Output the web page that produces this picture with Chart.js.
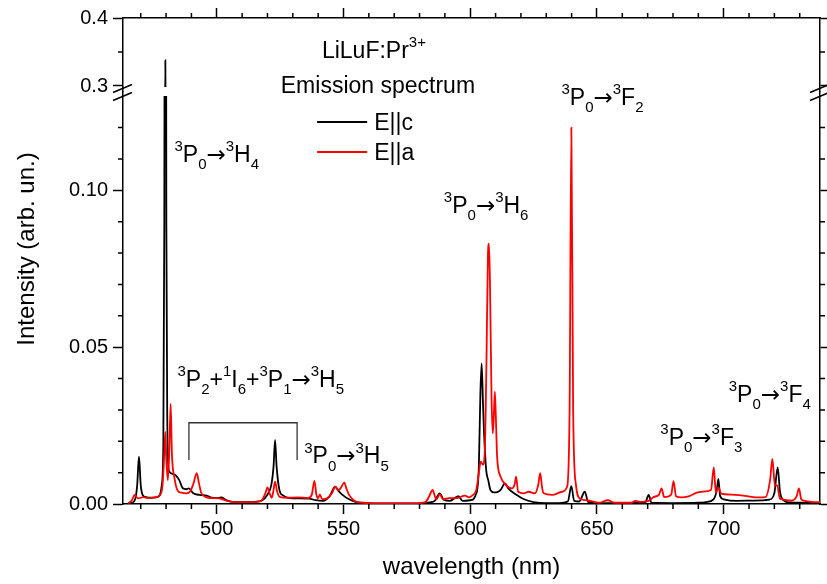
<!DOCTYPE html>
<html>
<head>
<meta charset="utf-8">
<title>LiLuF:Pr3+ emission spectrum</title>
<script src="https://cdn.jsdelivr.net/npm/chart.js@4.4.1/dist/chart.umd.min.js"></script>
<style>
  body { margin: 0; background: #fff; }
  #wrap { width: 827px; height: 584px; }
</style>
</head>
<body>
<div id="wrap"><canvas id="spec" width="827" height="584"></canvas></div>
<script>
// ---- data ----

// E||c, black
var cWl = [465, 466.5, 467.8, 468.6, 469.3, 470.0, 470.8, 472, 474, 476, 477.5, 478.3, 478.9, 479.3, 479.7, 480.1, 480.5,
  481.1, 482.7, 484, 485.2, 486.6, 488, 489, 490.6, 493.2, 496, 498, 500.5, 502, 503.5, 506, 510, 515, 518, 520,
  521.5, 522.4, 523, 523.6, 524.7, 526, 528.6, 532, 536.5, 539, 542, 544.5, 546.7, 548, 549.6, 552.2, 555, 560,
  570, 580, 584, 586, 588, 589.5, 592, 595.3, 597, 600, 602.4, 603.4, 604.0, 604.5, 605.0, 605.4, 606.3, 607.1,
  608, 609.3, 610.7, 612, 613.7, 615, 618.5, 621, 625, 630, 635, 638.5, 639.9, 641, 643, 645.2, 646.5, 650, 660,
  669, 670.4, 671.5, 680, 690, 693, 696, 697.3, 697.9, 698.6, 700, 705, 712, 718, 720, 721.3, 722.2, 723.1, 726,
  732, 738];
var cInt = [0.0002, 0.0004, 0.0015, 0.006, 0.0151, 0.006, 0.0028, 0.0022, 0.002, 0.0021, 0.0028, 0.006, 0.018, 0.09, 0.338, 0.09, 0.025,
  0.0106, 0.0096, 0.009, 0.0076, 0.005, 0.0047, 0.005, 0.0035, 0.0029, 0.0027, 0.002, 0.0019, 0.0021, 0.0013, 0.0007, 0.0006, 0.0007, 0.0012, 0.003,
  0.006, 0.012, 0.0204, 0.012, 0.0045, 0.0028, 0.0019, 0.0018, 0.0017, 0.0012, 0.001, 0.0025, 0.0055, 0.0042, 0.0029, 0.0015, 0.0006, 0.0003,
  0.0002, 0.0002, 0.0005, 0.001, 0.0034, 0.0014, 0.001, 0.0025, 0.001, 0.0012, 0.0034, 0.012, 0.035, 0.0448, 0.033, 0.0236, 0.0108, 0.0076,
  0.0044, 0.0037, 0.0038, 0.0045, 0.0066, 0.005, 0.0028, 0.0016, 0.0006, 0.0003, 0.0003, 0.0008, 0.0057, 0.001, 0.0008, 0.0039, 0.0007, 0.0003, 0.0003,
  0.0004, 0.0029, 0.0004, 0.0003, 0.0004, 0.0006, 0.0015, 0.0045, 0.008, 0.0025, 0.0015, 0.001, 0.0011, 0.0014, 0.0035, 0.0117, 0.004, 0.0016, 0.0005,
  0.0004, 0.0003];

// E||a, red
var aWl = [465, 466.5, 467.6, 468.9, 471, 473, 475.5, 477.5, 478.6, 479.3, 479.7, 480.1, 480.7, 481.3, 481.8, 482.3, 483.3,
  484.6, 486, 488, 489.5, 490.8, 492.1, 493.0, 493.9, 495.8, 498, 501, 504, 508, 514, 517.5, 519.2, 520, 520.8,
  521.7, 522.3, 523, 523.8, 525, 528, 532, 536, 537.5, 538.5, 539.3, 539.9, 540.7, 541.6, 543.5, 545.5, 546.7,
  548, 549, 550.3, 551.2, 552.2, 554, 555.4, 560, 570, 578, 582.4, 584, 585.1, 586.6, 588, 589.2, 591.6, 594.9,
  597.9, 599.5, 601, 602.4, 603.5, 604.1, 605.0, 605.7, 606.4, 607.0, 607.4, 607.8, 608.4, 608.9, 609.3, 609.7,
  610.1, 610.6, 612, 614, 616.5, 617.5, 618.1, 618.9, 621.1, 623.1, 625.5, 626.8, 627.6, 628.4, 629, 632.3,
  636.2, 638.2, 639.2, 639.9, 640.6, 641.7, 643.5, 646, 650.7, 654.3, 657, 663.7, 665.1, 667, 670.4, 672.3,
  674.5, 675.5, 676.5, 679.3, 680.2, 681.2, 683.3, 686.1, 689.4, 692.7, 695, 696.1, 696.9, 697.9, 699, 703.1,
  708.4, 713.7, 716.5, 718.3, 719.2, 720.2, 721.1, 722.2, 726.8, 728.8, 729.7, 730.6, 731.5, 734.5, 738];
var aInt = [0.0002, 0.0012, 0.0029, 0.0018, 0.0022, 0.0019, 0.0021, 0.0028, 0.006, 0.016, 0.023, 0.014, 0.0076, 0.018, 0.032, 0.016, 0.0083,
  0.0042, 0.0036, 0.0034, 0.004, 0.0065, 0.0098, 0.0065, 0.0035, 0.0022, 0.0019, 0.0018, 0.001, 0.0006, 0.0006, 0.001, 0.0035, 0.0053, 0.0035,
  0.002, 0.004, 0.0071, 0.004, 0.0022, 0.002, 0.0021, 0.0019, 0.003, 0.0074, 0.003, 0.0018, 0.003, 0.0015, 0.0018, 0.0035, 0.0055,
  0.0044, 0.0052, 0.0068, 0.0048, 0.0029, 0.0012, 0.0006, 0.0003, 0.0002, 0.0002, 0.0007, 0.0028, 0.0045, 0.0015, 0.0031, 0.0015, 0.0019, 0.0019,
  0.0027, 0.0021, 0.0028, 0.0045, 0.0105, 0.0135, 0.0125, 0.016, 0.045, 0.08, 0.083, 0.07, 0.0342, 0.0225, 0.028, 0.0358,
  0.028, 0.0151, 0.0087, 0.0061, 0.005, 0.0062, 0.0087, 0.0039, 0.0034, 0.0039, 0.0034, 0.006, 0.0098, 0.005, 0.0034, 0.0029,
  0.0039, 0.0055, 0.03, 0.12, 0.03, 0.0062, 0.0016, 0.0012, 0.0004, 0.0012, 0.0004, 0.0004, 0.001, 0.0007, 0.001, 0.0022,
  0.003, 0.005, 0.0022, 0.003, 0.0073, 0.0025, 0.0021, 0.0024, 0.0036, 0.004, 0.0045, 0.0117, 0.0036, 0.0053, 0.0033, 0.003,
  0.0026, 0.0021, 0.0022, 0.0076, 0.0144, 0.006, 0.0059, 0.0017, 0.0011, 0.0025, 0.005, 0.0015, 0.0011, 0.0007, 0.0006];

var seriesNames = ['E||c', 'E||a'];
var seriesColors = ['#000000', '#ff0000'];

// axis ranges (lower part / upper part of the broken y axis)
var X_MIN = 463, X_MAX = 738;
var LOW_MIN = 0, LOW_MAX = 0.1315;
var HIGH_MIN = 0.2919, HIGH_MAX = 0.4;

// transition labels: [text, wavelength, intensity of baseline]  (^ = superscript, _ = subscript)
var labels = [
  ['^3P_0\u2192^3H_4', 483.3, 0.109],
  ['^3P_2+^1I_6+^3P_1\u2192^3H_5', 484.5, 0.0373],
  ['^3P_0\u2192^3H_5', 534.5, 0.013],
  ['^3P_0\u2192^3H_6', 589.6, 0.0928],
  ['^3P_0\u2192^3F_2', 636, 0.1272],
  ['^3P_0\u2192^3F_3', 675, 0.0188],
  ['^3P_0\u2192^3F_4', 702, 0.0326]
];
// bracket under the 3P2+1I6+3P1 label: wavelengths and heights
var bracketWl = [489, 531.7];
var bracketInt = [0.014, 0.0259];

// ---- helpers ----
var FONT = "'Liberation Sans', Arial, sans-serif";
var ARROW_FONT = "'DejaVu Sans', sans-serif";
var TXT = 23;
Chart.defaults.font.family = FONT;
Chart.defaults.color = '#000';

function pts(wl, val) {
  return wl.map(function(w, i) { return {x: w, y: val[i]}; });
}
function isMultiple(v, step) {
  var r = v / step;
  return Math.abs(r - Math.round(r)) < 1e-6;
}
function majorColor(step) {
  return function(ctx) { return ctx.tick && isMultiple(ctx.tick.value, step) ? '#000' : 'rgba(0,0,0,0)'; };
}

var MINOR = 5, MAJOR = 10, GAP = 9;

// draws "^3P_0" style strings, returns width
function richText(ctx, spec, x, y, size, measureOnly) {
  var small = Math.round(size * 0.65);
  var parts = [], i = 0;
  while (i < spec.length) {
    var ch = spec[i];
    if (ch === '^' || ch === '_') {
      var t = spec[i + 1];
      if (spec[i + 2] === '+' && ch === '^' && spec[i + 3] === undefined) { t += '+'; i++; }
      parts.push({t: t, k: ch});
      i += 2;
    } else {
      parts.push({t: ch, k: ch === '\u2192' ? 'arrow' : ''});
      i++;
    }
  }
  var cx = x;
  parts.forEach(function(p) {
    var fs = (p.k === '^' || p.k === '_') ? small : size;
    ctx.font = fs + 'px ' + (p.k === 'arrow' ? ARROW_FONT : FONT);
    var dy = p.k === '^' ? -size * 0.46 : (p.k === '_' ? size * 0.32 : 0);
    if (!measureOnly) ctx.fillText(p.t, cx, y + dy);
    cx += ctx.measureText(p.t).width;
  });
  return cx - x;
}

var decor = {
  id: 'decor',
  beforeDatasetDraw: function(chart, args) {
    var xs = args.meta.xScale, ys = args.meta.yScale, ctx = chart.ctx;
    var top = ys.top, bottom = ys.bottom;
    if (ys.id === 'yLow') { top += GAP / 2; bottom += 2; } else { bottom -= GAP / 2; }
    ctx.save();
    ctx.beginPath();
    ctx.rect(xs.left, top, xs.right - xs.left, bottom - top);
    ctx.clip();
  },
  afterDatasetDraw: function(chart) {
    chart.ctx.restore();
  },
  afterDraw: function(chart) {
    var ctx = chart.ctx, s = chart.scales, area = chart.chartArea;
    ctx.save();
    ctx.strokeStyle = '#000';
    ctx.lineWidth = 1.5;

    // minor ticks
    ctx.beginPath();
    [['x', 50, 1], ['xTop', 50, -1]].forEach(function(a) {
      var sc = s[a[0]];
      sc.ticks.forEach(function(t) {
        if (isMultiple(t.value, a[1])) return;
        var px = sc.getPixelForValue(t.value);
        var y0 = a[2] > 0 ? sc.top : sc.bottom;
        ctx.moveTo(px, y0); ctx.lineTo(px, y0 + a[2] * MINOR);
      });
    });
    [['yLow', 0.05, -1], ['yHigh', 0.1, -1], ['yLowR', 0.05, 1], ['yHighR', 0.1, 1]].forEach(function(a) {
      var sc = s[a[0]];
      sc.ticks.forEach(function(t) {
        if (isMultiple(t.value, a[1])) return;
        if (sc.id.indexOf('yLow') === 0 && t.value > 0.125) return;
        var py = sc.getPixelForValue(t.value);
        var x0 = a[2] > 0 ? sc.left : sc.right;
        ctx.moveTo(x0, py); ctx.lineTo(x0 + a[2] * MINOR, py);
      });
    });
    ctx.stroke();

    // axis break marks
    var yb = s.yLow.top;
    [area.left, area.right].forEach(function(xb) {
      ctx.beginPath();
      ctx.moveTo(xb - 10, yb + 1); ctx.lineTo(xb + 9, yb - 7);
      ctx.moveTo(xb - 10, yb + 9); ctx.lineTo(xb + 9, yb + 1);
      ctx.stroke();
    });

    var xs = s.x, ys = s.yLow;
    ctx.fillStyle = '#000';
    ctx.textBaseline = 'alphabetic';
    ctx.textAlign = 'left';

    // transition labels
    labels.forEach(function(l) {
      richText(ctx, l[0], xs.getPixelForValue(l[1]), ys.getPixelForValue(l[2]), TXT);
    });

    // bracket
    ctx.lineWidth = 1.3;
    ctx.strokeStyle = '#333';
    var bx0 = xs.getPixelForValue(bracketWl[0]), bx1 = xs.getPixelForValue(bracketWl[1]);
    var byLo = ys.getPixelForValue(bracketInt[0]), byHi = ys.getPixelForValue(bracketInt[1]);
    ctx.beginPath();
    ctx.moveTo(bx0, byLo); ctx.lineTo(bx0, byHi); ctx.lineTo(bx1, byHi); ctx.lineTo(bx1, byLo);
    ctx.stroke();

    // sample name and legend
    var cxT = xs.getPixelForValue(562);
    var w1 = richText(ctx, 'LiLuF:Pr^3+', 0, 0, TXT, true);
    richText(ctx, 'LiLuF:Pr^3+', cxT - w1 / 2, ys.getPixelForValue(0.1422), TXT);
    ctx.font = TXT + 'px ' + FONT;
    ctx.textAlign = 'center';
    ctx.fillText('Emission spectrum', cxT + 4, ys.getPixelForValue(0.131));
    ctx.textAlign = 'left';
    var lx = xs.getPixelForValue(539.6);
    [0.1218, 0.1122].forEach(function(v, i) {
      var py = ys.getPixelForValue(v);
      ctx.strokeStyle = seriesColors[i];
      ctx.lineWidth = 2;
      ctx.beginPath(); ctx.moveTo(lx, py); ctx.lineTo(lx + 50, py); ctx.stroke();
      ctx.fillText(seriesNames[i], lx + 57, py + 8);
    });

    // y axis title spanning both parts
    ctx.font = '24px ' + FONT;
    ctx.translate(area.left - 96, (area.top + area.bottom) / 2 - 12);
    ctx.rotate(-Math.PI / 2);
    ctx.textAlign = 'center';
    ctx.textBaseline = 'middle';
    ctx.fillText('Intensity (arb. un.)', 0, 0);
    ctx.restore();
  }
};

function yAxis(pos, stack, weight, min, max, step, majorStep, digits, showLabels, width) {
  return {
    type: 'linear', position: pos, stack: stack, stackWeight: max - min > 0.12 ? 412.5 : 73.5,
    weight: weight, min: min, max: max,
    ticks: {
      display: showLabels, stepSize: step, includeBounds: false, autoSkip: false, padding: 5,
      font: {size: 20},
      callback: function(v) { return isMultiple(v, majorStep) ? v.toFixed(digits) : ''; }
    },
    grid: { drawOnChartArea: false, tickLength: MAJOR, tickWidth: 1.5, tickColor: majorColor(majorStep) },
    border: { color: '#000', width: 1.5 },
    afterFit: function(sc) { sc.width = width; }
  };
}

var ds = [
  {label: seriesNames[1], data: pts(aWl, aInt), yAxisID: 'yLow', borderColor: seriesColors[1]},
  {label: seriesNames[0], data: pts(cWl, cInt), yAxisID: 'yLow', borderColor: seriesColors[0]},
  {label: seriesNames[0] + ' top', data: pts(cWl, cInt), yAxisID: 'yHigh', borderColor: seriesColors[0]}
];
ds.forEach(function(d) {
  d.xAxisID = 'x';
  d.borderWidth = 1.8;
  d.pointRadius = 0;
  d.cubicInterpolationMode = 'monotone';
  d.fill = false;
});

new Chart(document.getElementById('spec'), {
  type: 'line',
  data: { datasets: ds },
  options: {
    responsive: false,
    animation: false,
    layout: { padding: 0 },
    plugins: { legend: { display: false }, tooltip: { enabled: false } },
    scales: {
      x: {
        type: 'linear', position: 'bottom', min: X_MIN, max: X_MAX,
        ticks: {
          stepSize: 10, includeBounds: false, autoSkip: false, maxRotation: 0, padding: 3,
          font: {size: 20},
          callback: function(v) { return isMultiple(v, 50) ? String(v) : ''; }
        },
        grid: { drawOnChartArea: false, tickLength: MAJOR, tickWidth: 1.5, tickColor: majorColor(50) },
        border: { color: '#000', width: 1.5 },
        title: { display: true, text: 'wavelength (nm)', font: {size: 24}, padding: {top: 0, bottom: 2} },
        afterFit: function(sc) { sc.height = 80; }
      },
      xTop: {
        type: 'linear', position: 'top', min: X_MIN, max: X_MAX,
        ticks: { display: false, stepSize: 10, includeBounds: false, autoSkip: false },
        grid: { drawOnChartArea: false, tickLength: MAJOR, tickWidth: 1.5, tickColor: majorColor(50) },
        border: { color: '#000', width: 1.5 },
        afterFit: function(sc) { sc.height = 18; }
      },
      yLow: yAxis('left', 'L', 0, LOW_MIN, LOW_MAX, 0.01, 0.05, 2, true, 123),
      yHigh: yAxis('left', 'L', 1, HIGH_MIN, HIGH_MAX, 0.05, 0.1, 1, true, 123),
      yLowR: yAxis('right', 'R', 1, LOW_MIN, LOW_MAX, 0.01, 0.05, 2, false, 7),
      yHighR: yAxis('right', 'R', 0, HIGH_MIN, HIGH_MAX, 0.05, 0.1, 1, false, 7)
    }
  },
  plugins: [decor]
});
</script>
</body>
</html>
